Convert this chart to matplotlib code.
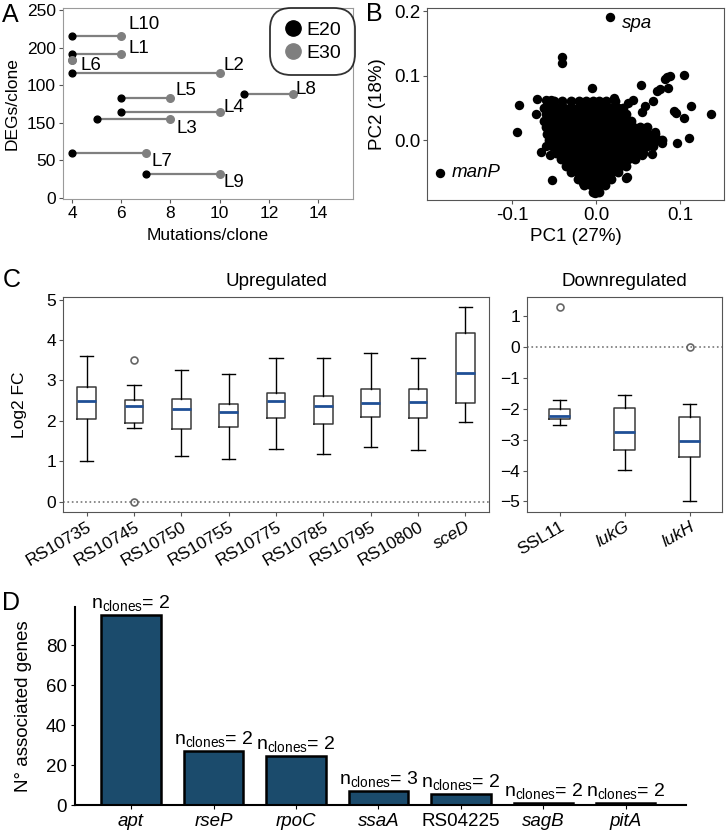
import matplotlib.pyplot as plt
from matplotlib.lines import Line2D
import numpy as np

plt.rcParams['font.family'] = ['Liberation Sans', 'DejaVu Sans']
plt.rcParams['mathtext.fontset'] = 'custom'
plt.rcParams['mathtext.rm'] = 'Liberation Sans'
plt.rcParams['mathtext.it'] = 'Liberation Sans:italic'

# ---- Panel A data: mutations and DEGs per clone ----
clones = ['L10', 'L1', 'L6', 'L2', 'L5', 'L8', 'L4', 'L3', 'L7', 'L9']
degs = [215, 192, 183, 166, 133, 138, 114, 105, 60, 32]
mut_e20 = [4, 4, 4, 4, 6, 11, 6, 5, 4, 7]
mut_e30 = [6, 6, 4, 10, 8, 13, 10, 8, 7, 10]
a_ytick_labels = ['0', '50', '150', '100', '200', '250']

# ---- Panel B data: PCA of genes ----
# dense core, typed row by row as (PC2, [PC1 values])
cloud_rows = [
    (0.060, [-0.058, -0.050, -0.040, -0.030, -0.020, -0.012, -0.004, 0.004, 0.012, 0.022]),
    (0.050, [-0.062, -0.054, -0.046, -0.038, -0.030, -0.022, -0.014, -0.006, 0.002, 0.010, 0.018, 0.026, 0.032]),
    (0.040, [-0.060, -0.052, -0.044, -0.036, -0.028, -0.020, -0.012, -0.004, 0.004, 0.012, 0.020, 0.028, 0.036]),
    (0.030, [-0.062, -0.054, -0.046, -0.038, -0.030, -0.022, -0.014, -0.006, 0.002, 0.010, 0.018, 0.026, 0.034, 0.042]),
    (0.020, [-0.060, -0.052, -0.044, -0.036, -0.028, -0.020, -0.012, -0.004, 0.004, 0.012, 0.020, 0.028, 0.036, 0.044, 0.052, 0.060]),
    (0.010, [-0.058, -0.050, -0.042, -0.034, -0.026, -0.018, -0.010, -0.002, 0.006, 0.014, 0.022, 0.030, 0.038, 0.046, 0.054, 0.062, 0.070]),
    (0.000, [-0.056, -0.048, -0.040, -0.032, -0.024, -0.016, -0.008, 0.000, 0.008, 0.016, 0.024, 0.032, 0.040, 0.048, 0.056, 0.064, 0.072, 0.078]),
    (-0.010, [-0.052, -0.044, -0.036, -0.028, -0.020, -0.012, -0.004, 0.004, 0.012, 0.020, 0.028, 0.036, 0.044, 0.052, 0.060, 0.068]),
    (-0.020, [-0.048, -0.040, -0.032, -0.024, -0.016, -0.008, 0.000, 0.008, 0.016, 0.024, 0.032, 0.040, 0.048, 0.056]),
    (-0.030, [-0.042, -0.034, -0.026, -0.018, -0.010, -0.002, 0.006, 0.014, 0.022, 0.030, 0.038, 0.046]),
    (-0.040, [-0.036, -0.028, -0.020, -0.012, -0.004, 0.004, 0.012, 0.020, 0.028, 0.036]),
    (-0.050, [-0.030, -0.022, -0.014, -0.006, 0.002, 0.010, 0.018, 0.026]),
    (-0.060, [-0.022, -0.014, -0.006, 0.002, 0.010, 0.018]),
    (-0.070, [-0.014, -0.006, 0.002, 0.010]),
    (-0.080, [-0.004, 0.004]),
]
pc1_out = [-0.041, -0.040, -0.092, -0.094, -0.071, -0.070, -0.060, -0.054, -0.065, -0.053,
           -0.059, -0.055, 0.105, 0.084, 0.088, 0.082, 0.086, 0.076, 0.072, 0.053,
           -0.005, 0.068, 0.044, 0.038, 0.021, 0.058, 0.054, 0.092, 0.095, 0.113,
           0.137, 0.105, 0.110, 0.096, 0.066, 0.054, 0.074, 0.078, 0.070, 0.037,
           0.036, -0.001, -0.015]
pc2_out = [0.129, 0.119, 0.055, 0.013, 0.041, 0.064, 0.062, 0.062, -0.018, -0.062,
           -0.010, -0.023, 0.101, 0.097, 0.099, 0.094, 0.080, 0.079, 0.076, 0.085,
           0.081, 0.061, 0.062, 0.057, 0.065, 0.053, 0.043, 0.045, 0.042, 0.053,
           0.041, 0.034, 0.003, -0.004, -0.021, -0.023, 0.000, -0.004, 0.013, -0.057,
           -0.059, -0.082, -0.067]
named_genes = ['spa', 'manP']
named_pc1 = [0.016, -0.185]
named_pc2 = [0.191, -0.051]

# ---- Panel C data: box stats of log2 fold change ----
up_genes = ['RS10735', 'RS10745', 'RS10750', 'RS10755', 'RS10775', 'RS10785', 'RS10795', 'RS10800', 'sceD']
up_whislo = [1.01, 1.83, 1.12, 1.05, 1.31, 1.19, 1.34, 1.27, 1.96]
up_q1 = [2.05, 1.95, 1.80, 1.85, 2.07, 1.93, 2.10, 2.07, 2.45]
up_med = [2.48, 2.37, 2.30, 2.21, 2.50, 2.36, 2.43, 2.46, 3.19]
up_q3 = [2.83, 2.51, 2.55, 2.41, 2.68, 2.61, 2.79, 2.79, 4.17]
up_whishi = [3.61, 2.90, 3.26, 3.17, 3.56, 3.56, 3.69, 3.55, 4.83]
up_fliers = [[], [3.51, 0.0], [], [], [], [], [], [], []]

down_genes = ['SSL11', 'lukG', 'lukH']
down_whislo = [-2.52, -3.98, -5.00]
down_q1 = [-2.33, -3.34, -3.57]
down_med = [-2.23, -2.76, -3.04]
down_q3 = [-1.99, -1.96, -2.27]
down_whishi = [-1.70, -1.56, -1.85]
down_fliers = [[1.29], [], [0.0]]

# ---- Panel D data ----
mut_genes = ['apt', 'rseP', 'rpoC', 'ssaA', 'RS04225', 'sagB', 'pitA']
assoc_genes = [94.8, 26.8, 24.6, 7.2, 5.3, 1.2, 1.2]
n_clones = [2, 2, 2, 3, 2, 2, 2]

W, H = 728, 834
fig = plt.figure(figsize=(W / 100, H / 100), dpi=100)


def add_ax(x0, y0, x1, y1):
    # pixel box (top-left origin) -> figure fraction
    return fig.add_axes([x0 / W, 1 - y1 / H, (x1 - x0) / W, (y1 - y0) / H])


FS = 12.5

# ================= A =================
axA = add_ax(63, 8, 353, 199)
for i in range(len(clones)):
    axA.plot([mut_e20[i], mut_e30[i]], [degs[i], degs[i]], color='#7f7f7f', lw=1.6, zorder=1)
axA.scatter(mut_e20, degs, s=24, color='black', zorder=2)
axA.scatter(mut_e30, degs, s=30, color='#7f7f7f', zorder=3)
label_off = {'L10': (7, 12), 'L1': (7, 5), 'L6': (8, -5), 'L2': (4, 8), 'L5': (5, 7),
             'L8': (2, 5), 'L4': (4, 5), 'L3': (6, -10), 'L7': (6, -9), 'L9': (4, -9)}
for i, c in enumerate(clones):
    axA.annotate(c, (mut_e30[i], degs[i]), xytext=label_off[c], textcoords='offset pixels',
                 ha='left', va='center', fontsize=13.5)
axA.set_xlim(3.63, 15.42)
axA.set_ylim(-2, 253)
axA.set_xticks([4, 6, 8, 10, 12, 14])
axA.set_yticks([0, 50, 100, 150, 200, 250])
axA.set_yticklabels(a_ytick_labels)
axA.tick_params(labelsize=FS, length=3, color='#555555', pad=2)
for sp in axA.spines.values():
    sp.set_color('#9a9a9a')
axA.set_xlabel('Mutations/clone', fontsize=FS)
axA.set_ylabel('DEGs/clone', fontsize=FS)
axA.xaxis.set_label_coords(0.5, -0.15)
axA.yaxis.set_label_coords(-0.148, 0.5)
leg_handles = [Line2D([], [], ls='none', marker='o', ms=11, color='black'),
               Line2D([], [], ls='none', marker='o', ms=11, color='#7f7f7f')]
leg = axA.legend(leg_handles, ['E20', 'E30'], loc='upper right', fontsize=14,
                 handletextpad=0.2, borderpad=0.45, handlelength=1.0, labelspacing=0.25,
                 frameon=True, borderaxespad=0.0, bbox_to_anchor=(0.99, 0.975))
leg.get_frame().set_edgecolor('black')
leg.get_frame().set_linewidth(1.3)
leg.get_frame().set_boxstyle('round,pad=0.25,rounding_size=1.1')
fig.text(10 / W, 1 - 15 / H, 'A', fontsize=18, ha='center', va='center')

# ================= B =================
axB = add_ax(427, 8, 724, 200)
pc1_core = [x for y, xs in cloud_rows for x in xs]
pc2_core = [y for y, xs in cloud_rows for x in xs]
axB.scatter(pc1_core, pc2_core, s=50, color='black', linewidths=0)
axB.scatter(pc1_out, pc2_out, s=46, color='black', linewidths=0)
axB.scatter(named_pc1, named_pc2, s=46, color='black', linewidths=0)
axB.annotate(named_genes[0], (named_pc1[0], named_pc2[0]), xytext=(12, -7),
             textcoords='offset pixels', fontsize=13.5, style='italic', va='center')
axB.annotate(named_genes[1], (named_pc1[1], named_pc2[1]), xytext=(11, 0),
             textcoords='offset pixels', fontsize=13.5, style='italic', va='center')
axB.set_xlim(-0.201, 0.152)
axB.set_ylim(-0.093, 0.2047)
axB.set_xticks([-0.1, 0.0, 0.1])
axB.set_yticks([0.0, 0.1, 0.2])
axB.set_xticklabels(['-0.1', '0.0', '0.1'])
axB.tick_params(labelsize=13.5, length=3, color='#555555', pad=2)
for sp in axB.spines.values():
    sp.set_color('#555555')
axB.set_xlabel('PC1 (27%)', fontsize=13.5)
axB.set_ylabel('PC2 (18%)', fontsize=13.5)
axB.xaxis.set_label_coords(0.5, -0.145)
axB.yaxis.set_label_coords(-0.138, 0.5)
fig.text(374 / W, 1 - 14 / H, 'B', fontsize=18, ha='center', va='center')


# ================= C =================
def make_stats(names, lo, q1, med, q3, hi, fl):
    return [dict(label=n, whislo=lo[i], q1=q1[i], med=med[i], q3=q3[i], whishi=hi[i],
                 fliers=fl[i]) for i, n in enumerate(names)]


box_kw = dict(boxprops=dict(color='#3a3a3a', lw=1.1),
              whiskerprops=dict(color='black', lw=1.0),
              capprops=dict(color='black', lw=1.0),
              medianprops=dict(color='#1f4f96', lw=2.0),
              flierprops=dict(marker='o', mfc='none', mec='#666666', ms=5, mew=1.2))

axCu = add_ax(63, 297, 489, 512)
up_stats = make_stats(up_genes, up_whislo, up_q1, up_med, up_q3, up_whishi, up_fliers)
pos_u = np.arange(1, len(up_genes) + 1)
axCu.bxp(up_stats, positions=pos_u, widths=0.4, capwidths=0.28, **box_kw)
axCu.axhline(0, color='#777777', ls=':', lw=1.2, zorder=0)
axCu.set_xlim(0.5, len(up_genes) + 0.5)
axCu.set_ylim(-0.26, 5.07)
axCu.set_yticks([0, 1, 2, 3, 4, 5])
axCu.set_xticks(pos_u)
axCu.set_xticklabels(up_genes, rotation=30, ha='right', rotation_mode='anchor')
for t in axCu.get_xticklabels():
    if t.get_text() == 'sceD':
        t.set_style('italic')
axCu.tick_params(labelsize=FS, length=3, color='#555555', pad=2)
for sp in axCu.spines.values():
    sp.set_color('#555555')
axCu.set_title('Upregulated', fontsize=13.5, pad=8)
axCu.set_ylabel('Log2 FC', fontsize=FS)
axCu.yaxis.set_label_coords(-0.085, 0.5)
fig.text(12 / W, 1 - 280 / H, 'C', fontsize=18, ha='center', va='center')

axCd = add_ax(527, 297, 722, 512)
down_stats = make_stats(down_genes, down_whislo, down_q1, down_med, down_q3, down_whishi, down_fliers)
pos_d = np.arange(1, len(down_genes) + 1)
axCd.bxp(down_stats, positions=pos_d, widths=0.31, capwidths=0.2, **box_kw)
axCd.axhline(0, color='#777777', ls=':', lw=1.2, zorder=0)
axCd.set_xlim(0.5, len(down_genes) + 0.5)
axCd.set_ylim(-5.34, 1.62)
axCd.set_yticks([-5, -4, -3, -2, -1, 0, 1])
axCd.set_yticklabels(['\u22125', '\u22124', '\u22123', '\u22122', '\u22121', '0', '1'])
axCd.set_xticks(pos_d)
axCd.set_xticklabels(down_genes, rotation=30, ha='right', rotation_mode='anchor')
for t in axCd.get_xticklabels():
    if t.get_text() != 'SSL11':
        t.set_style('italic')
axCd.tick_params(labelsize=FS, length=3, color='#555555', pad=2)
for sp in axCd.spines.values():
    sp.set_color('#555555')
axCd.set_title('Downregulated', fontsize=13.5, pad=8)

# ================= D =================
axD = add_ax(75, 607, 686, 805)
xd = np.arange(len(mut_genes))
axD.bar(xd, assoc_genes, width=0.72, color='#1b4b6c', edgecolor='black', lw=1.8)
for i in range(len(mut_genes)):
    axD.annotate(r'n$_{\mathrm{clones}}$= %d' % n_clones[i], (xd[i], assoc_genes[i]),
                 xytext=(0, 2), textcoords='offset pixels', ha='center', va='bottom',
                 fontsize=14)
axD.set_xlim(-0.68, 6.73)
axD.set_ylim(0, 99)
axD.set_yticks([0, 20, 40, 60, 80])
axD.set_xticks(xd)
axD.set_xticklabels(mut_genes)
for t in axD.get_xticklabels():
    if t.get_text() != 'RS04225':
        t.set_style('italic')
axD.tick_params(labelsize=13.5, length=3, pad=3)
axD.spines['top'].set_visible(False)
axD.spines['right'].set_visible(False)
axD.spines['left'].set_linewidth(1.5)
axD.spines['bottom'].set_linewidth(1.5)
axD.set_ylabel('N\u00b0 associated genes', fontsize=13.5)
axD.yaxis.set_label_coords(-0.07, 0.5)
fig.text(11 / W, 1 - 603 / H, 'D', fontsize=18, ha='center', va='center')

fig.savefig('out.png', dpi=100)
